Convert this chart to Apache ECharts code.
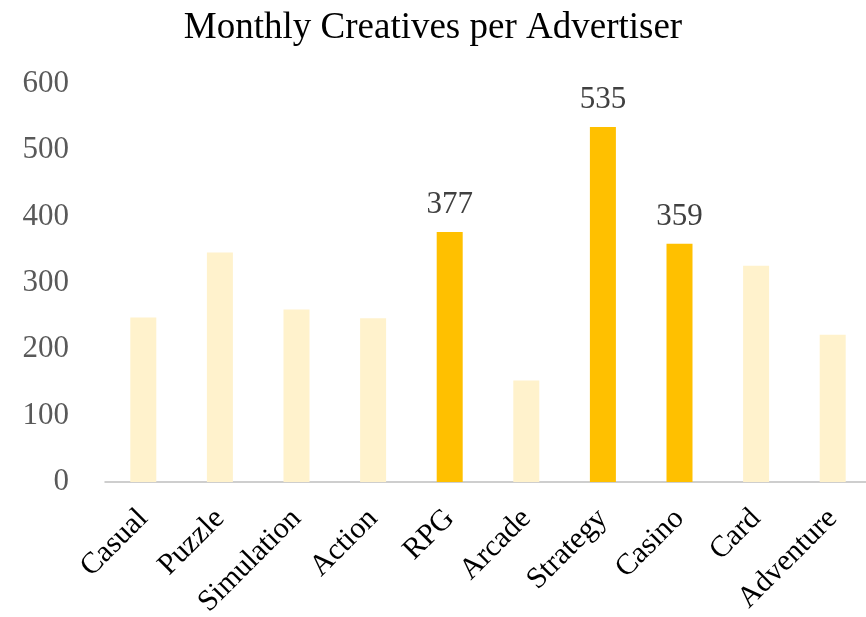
<!DOCTYPE html>
<html>
<head>
<meta charset="utf-8">
<style>
  html, body { margin: 0; padding: 0; background: #fff; }
  #chart { width: 866px; height: 617px; }
</style>
<script src="https://cdn.jsdelivr.net/npm/echarts@6/dist/echarts.min.js"></script>
</head>
<body>
<div id="chart"></div>
<script>
// Monthly creatives per advertiser, by game genre
const categories = ['Casual', 'Puzzle', 'Simulation', 'Action', 'RPG', 'Arcade', 'Strategy', 'Casino', 'Card', 'Adventure'];
const creatives = [248, 346, 260, 247, 377, 153, 535, 359, 326, 222];
// Genres drawn in the strong colour, with their values labelled
const highlighted = ['RPG', 'Strategy', 'Casino'];
const yTicks = [0, 100, 200, 300, 400, 500, 600];

const FONT = '"Liberation Serif", "Times New Roman", serif';
const BASE = '#FFF2CC';
const STRONG = '#FFC000';

const seriesData = categories.map((c, i) => {
  const on = highlighted.includes(c);
  return {
    value: creatives[i],
    itemStyle: { color: on ? STRONG : BASE },
    label: { show: on }
  };
});

const chart = echarts.init(document.getElementById('chart'));
chart.setOption({
  animation: false,
  backgroundColor: '#fff',
  title: {
    text: 'Monthly Creatives per Advertiser',
    left: 'center',
    top: 5,
    textStyle: { fontFamily: FONT, fontSize: 37, fontWeight: 'normal', color: '#000' }
  },
  grid: { left: 105, right: -5, top: 84, bottom: 135, containLabel: false, outerBoundsMode: 'none' },
  xAxis: {
    type: 'category',
    data: categories,
    axisLine: { lineStyle: { color: '#BFBFBF', width: 1.5 } },
    axisTick: { show: false },
    axisLabel: {
      rotate: 45,
      interval: 0,
      margin: 32,
      fontFamily: FONT,
      fontSize: 30,
      color: '#000'
    }
  },
  yAxis: {
    type: 'value',
    min: yTicks[0],
    max: yTicks[yTicks.length - 1],
    interval: 100,
    splitLine: { show: false },
    axisLine: { show: false },
    axisTick: { show: false },
    axisLabel: {
      margin: 36,
      fontFamily: FONT,
      fontSize: 31,
      color: '#595959'
    }
  },
  series: [{
    type: 'bar',
    data: seriesData,
    barWidth: 26,
    label: {
      position: 'top',
      distance: 12,
      fontFamily: FONT,
      fontSize: 31,
      color: '#404040'
    }
  }]
});
</script>
</body>
</html>
